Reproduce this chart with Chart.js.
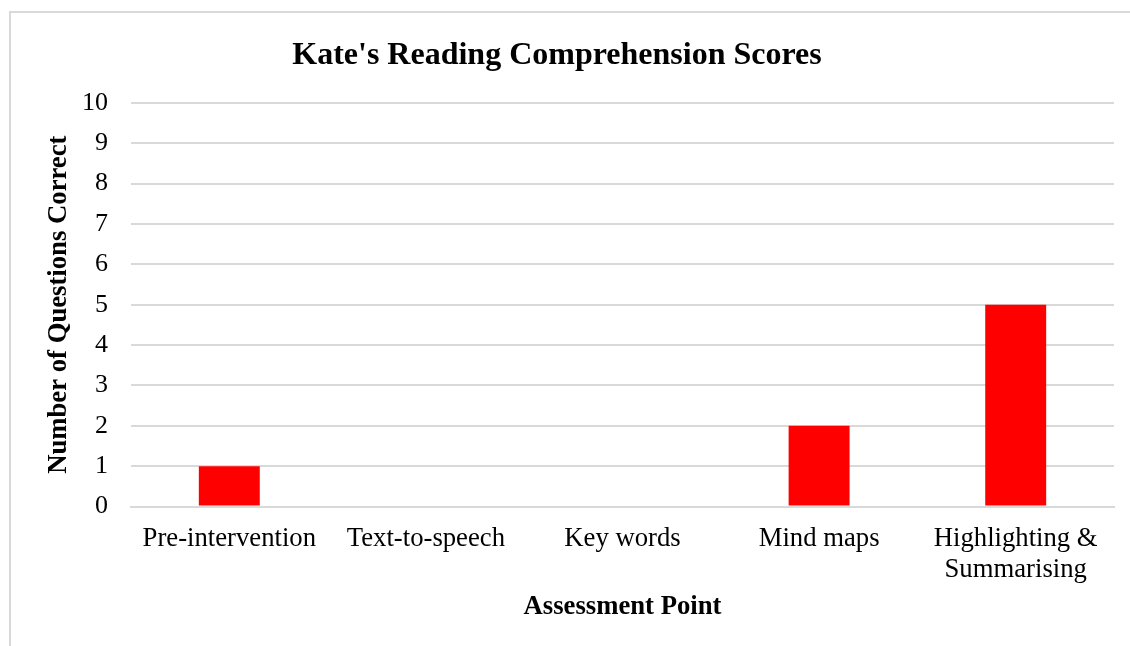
<!DOCTYPE html>
<html>
<head>
    <meta charset="UTF-8">
    <title>Kate's Reading Comprehension Scores</title>
    <script src="https://cdn.jsdelivr.net/npm/chart.js"></script>
    <style>
        html, body { margin: 0; padding: 0; background: #fff; }
        #frame {
            position: absolute; left: 9px; top: 11px;
            width: 1200px; height: 700px;
            border: 2px solid #d9d9d9;
        }
        #wrap { position: absolute; left: 0; top: 0; width: 1130px; height: 646px; }
    </style>
</head>
<body>
<div id="frame"></div>
<div id="wrap">
    <canvas id="scoresChart" width="1130" height="646"></canvas>
</div>

<script>
    // data
    const categories = ['Pre-intervention', 'Text-to-speech', 'Key words', 'Mind maps', ['Highlighting &', 'Summarising']];
    const questionsCorrect = [1, 0, 0, 2, 5];
    const yTicks = [0, 1, 2, 3, 4, 5, 6, 7, 8, 9, 10];

    const serif = '"Liberation Serif", "Times New Roman", serif';

    const ctx = document.getElementById('scoresChart').getContext('2d');
    new Chart(ctx, {
        type: 'bar',
        data: {
            labels: categories,
            datasets: [{
                label: 'Number of Questions Correct',
                data: questionsCorrect,
                backgroundColor: '#ff0000',
                borderWidth: 0,
                barPercentage: 0.31,
                categoryPercentage: 1
            }]
        },
        options: {
            responsive: false,
            animation: false,
            layout: { padding: { left: 0, right: 16, top: 0, bottom: 0 } },
            plugins: {
                legend: { display: false },
                tooltip: { enabled: false },
                title: {
                    display: true,
                    text: "Kate's Reading Comprehension Scores",
                    color: '#000',
                    font: { family: serif, size: 32, weight: 'bold', lineHeight: 1.2 },
                    padding: { top: 37, bottom: 27.5 }
                }
            },
            scales: {
                x: {
                    // axis band below the plot: 646 - 506.5
                    afterFit: function(axis) { axis.height = 139.5; },
                    grid: { display: false, drawTicks: false },
                    border: { display: true, color: '#d9d9d9', width: 2 },
                    ticks: {
                        color: '#000',
                        padding: 17.5,
                        maxRotation: 0,
                        autoSkip: false,
                        font: { family: serif, size: 26.7, lineHeight: 1.15 }
                    },
                    title: {
                        display: true,
                        text: 'Assessment Point',
                        color: '#000',
                        font: { family: serif, size: 26.7, weight: 'bold', lineHeight: 1.2 },
                        padding: { top: 6, bottom: 23 }
                    }
                },
                y: {
                    min: yTicks[0],
                    max: yTicks[yTicks.length - 1],
                    afterBuildTicks: function(axis) {
                        axis.ticks = yTicks.map(function(v) { return { value: v }; });
                    },
                    afterFit: function(axis) { axis.width = 131; },
                    grid: { color: '#d9d9d9', lineWidth: 2, drawTicks: false },
                    border: { display: false },
                    ticks: {
                        color: '#000',
                        padding: 23,
                        font: { family: serif, size: 26, lineHeight: 1.2 }
                    },
                    title: {
                        display: true,
                        text: 'Number of Questions Correct',
                        color: '#000',
                        font: { family: serif, size: 26.7, weight: 'bold', lineHeight: 1.2 },
                        padding: { top: 43, bottom: 7 }
                    }
                }
            }
        }
    });
</script>
</body>
</html>
